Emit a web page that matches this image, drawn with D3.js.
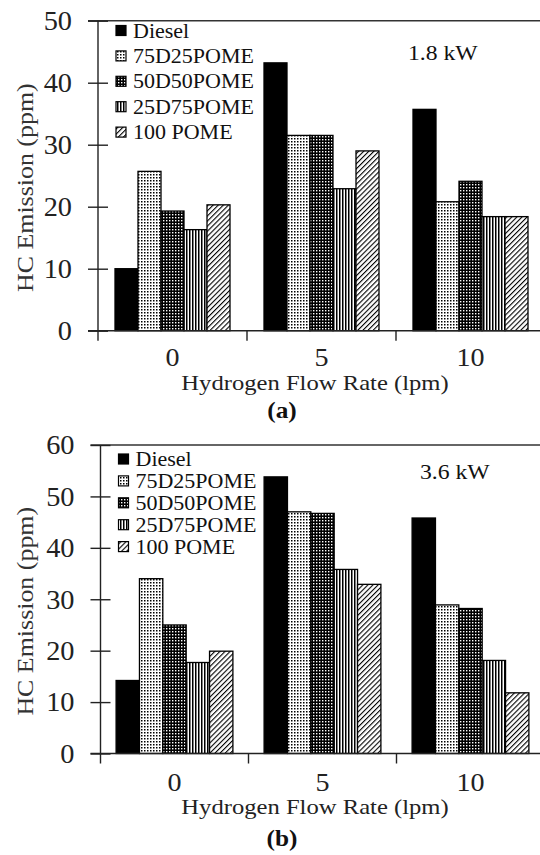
<!DOCTYPE html>
<html>
<head>
<meta charset="utf-8">
<script src="https://cdn.jsdelivr.net/npm/d3@7"></script>
<style>
  html, body { margin: 0; padding: 0; background: #fff; }
  svg { display: block; }
</style>
</head>
<body>
<script>
// ---------------- data ----------------
const categories = ["0", "5", "10"];
const seriesNames = ["Diesel", "75D25POME", "50D50POME", "25D75POME", "100 POME"];

// Panel (a) 1.8 kW
const dieselA  = [10.0, 43.2, 35.7];
const d75A     = [25.7, 31.5, 20.8];
const d50A     = [19.3, 31.5, 24.1];
const d25A     = [16.3, 22.9, 18.4];
const pomeA    = [20.3, 29.0, 18.4];
const yTicksA  = [0, 10, 20, 30, 40, 50];

// Panel (b) 3.6 kW
const dieselB  = [14.2, 53.8, 45.8];
const d75B     = [34.0, 47.0, 28.9];
const d50B     = [25.0, 46.7, 28.2];
const d25B     = [17.7, 35.8, 18.1];
const pomeB    = [19.9, 32.9, 11.8];
const yTicksB  = [0, 10, 20, 30, 40, 50, 60];

const yLabel = "HC Emission (ppm)";
const xLabel = "Hydrogen Flow Rate (lpm)";

// ---------------- drawing ----------------
const W = 540, H = 855;
const SX = 1.1;
const FONT = "'Liberation Serif', 'Times New Roman', Times, serif";

const svg = d3.select("body").append("svg")
  .attr("width", W).attr("height", H)
  .style("background", "#fff");

const defs = svg.append("defs");
const fills = ["#000", "url(#p75)", "url(#p50)", "url(#p25)", "url(#p100)"];

// 75D25: light dots
let p = defs.append("pattern").attr("id", "p75").attr("patternUnits", "userSpaceOnUse")
  .attr("width", 3).attr("height", 3);
p.append("rect").attr("width", 3).attr("height", 3).attr("fill", "#fff");
p.append("rect").attr("x", 0).attr("y", 0).attr("width", 1.5).attr("height", 1.5).attr("fill", "#000");
// 50D50: dark with white dots
p = defs.append("pattern").attr("id", "p50").attr("patternUnits", "userSpaceOnUse")
  .attr("width", 3).attr("height", 3);
p.append("rect").attr("width", 3).attr("height", 3).attr("fill", "#000");
p.append("rect").attr("x", 1).attr("y", 1).attr("width", 1.4).attr("height", 1.4).attr("fill", "#fff");
// 25D75: vertical stripes
p = defs.append("pattern").attr("id", "p25").attr("patternUnits", "userSpaceOnUse")
  .attr("width", 3).attr("height", 3);
p.append("rect").attr("width", 3).attr("height", 3).attr("fill", "#fff");
p.append("rect").attr("x", 0).attr("y", 0).attr("width", 1.5).attr("height", 3).attr("fill", "#000");
// 100 POME: diagonal hatch
p = defs.append("pattern").attr("id", "p100").attr("patternUnits", "userSpaceOnUse")
  .attr("width", 3.6).attr("height", 3.6).attr("patternTransform", "rotate(45)");
p.append("rect").attr("width", 3.6).attr("height", 3.6).attr("fill", "#fff");
p.append("rect").attr("x", 0).attr("y", 0).attr("width", 1.1).attr("height", 3.6).attr("fill", "#000");

function txt(g, x, y, s, o) {
  o = o || {};
  const t = g.append("text")
    .attr("transform", `translate(${x},${y})` + (o.rot ? ` rotate(${o.rot})` : "") + ` scale(${o.sx || SX},1)`)
    .attr("text-anchor", o.anchor || "start")
    .attr("font-family", FONT)
    .attr("font-size", o.size || 20)
    .attr("font-weight", o.bold ? "bold" : "normal")
    .attr("fill", o.color || "#111")
    .text(s);
  if (o.dy) t.attr("dy", o.dy);
  return t;
}

function panel(cfg) {
  const g = svg.append("g");
  const series = [cfg.diesel, cfg.d75, cfg.d50, cfg.d25, cfg.pome];
  const x0 = d3.scaleBand().domain(categories)
    .range([cfg.left, cfg.left + 3 * cfg.band]).padding(0);
  const x1 = d3.scaleBand().domain(seriesNames)
    .range([cfg.gpad, cfg.band - cfg.gpad]).padding(0);
  const y = d3.scaleLinear().domain([0, cfg.ymax]).range([cfg.zero, cfg.top]);

  // bars
  seriesNames.forEach((s, si) => {
    g.append("g").selectAll("rect").data(series[si]).join("rect")
      .attr("x", (d, i) => x0(categories[i]) + x1(s))
      .attr("y", d => y(d))
      .attr("width", x1.bandwidth())
      .attr("height", d => y(0) - y(d))
      .attr("fill", fills[si])
      .attr("stroke", "#000")
      .attr("stroke-width", 1.3);
  });

  // top border
  g.append("line")
    .attr("x1", cfg.left - 10).attr("x2", x0.range()[1])
    .attr("y1", y(cfg.ymax)).attr("y2", y(cfg.ymax))
    .attr("stroke", "#333").attr("stroke-width", 1.6);

  // y axis
  const ya = g.append("g").attr("transform", `translate(${cfg.left},0)`)
    .call(d3.axisLeft(y).tickValues(cfg.yTicks).tickSize(10).tickSizeOuter(0).tickFormat(d3.format("d")));
  ya.select(".domain").remove();
  ya.selectAll(".tick line").attr("x1", 10).attr("stroke", "#222").attr("stroke-width", 1.4);
  ya.selectAll(".tick text").remove();
  cfg.yTicks.forEach(v => {
    txt(g, cfg.left - 26, y(v), String(v), { anchor: "end", size: 26.5, sx: 1.07, dy: "0.35em", color: "#222" });
  });
  g.append("line")
    .attr("x1", cfg.left).attr("x2", cfg.left)
    .attr("y1", y(cfg.ymax)).attr("y2", y(0) + 10)
    .attr("stroke", "#222").attr("stroke-width", 1.4);

  // x axis
  g.append("line")
    .attr("x1", cfg.left - 10).attr("x2", x0.range()[1])
    .attr("y1", y(0)).attr("y2", y(0))
    .attr("stroke", "#222").attr("stroke-width", 1.4);
  categories.slice(1).forEach(c => {
    g.append("line")
      .attr("x1", x0(c)).attr("x2", x0(c))
      .attr("y1", y(0)).attr("y2", y(0) + 10)
      .attr("stroke", "#222").attr("stroke-width", 1.4);
  });
  categories.forEach(c => {
    txt(g, x0(c) + x0.bandwidth() / 2, y(0) + cfg.tickGap, c, { anchor: "middle", size: 26, sx: 1.08, color: "#222" });
  });

  // axis titles
  txt(g, 315, y(0) + cfg.titleGap, xLabel, { anchor: "middle", size: 22, sx: 1.12, color: "#222" });
  txt(g, 33, (cfg.top + cfg.zero) / 2 + 12, yLabel, { anchor: "middle", size: 24, sx: 1.08, rot: -90, color: "#333" });

  // power label
  txt(g, cfg.kwX, cfg.kwY, cfg.kw, { size: 21.5, sx: 1.1 });

  // legend
  seriesNames.forEach((s, si) => {
    const by = cfg.legY + si * cfg.legStep;
    g.append("rect")
      .attr("x", cfg.legX).attr("y", by - 12)
      .attr("width", 10).attr("height", 10)
      .attr("fill", fills[si]).attr("stroke", "#000").attr("stroke-width", 1.2);
    txt(g, cfg.legX + 17, by, s, { size: 20, sx: 1.1 });
  });

  // panel letter
  txt(g, 282, cfg.letterY, cfg.letter, { anchor: "middle", size: 23, bold: true, sx: 1.1 });
}

panel({
  diesel: dieselA, d75: d75A, d50: d50A, d25: d25A, pome: pomeA,
  yTicks: yTicksA, ymax: 50,
  left: 98, band: 149, gpad: 17, top: 20.7, zero: 330.7,
  tickGap: 35.5, titleGap: 59,
  kw: "1.8  kW", kwX: 408, kwY: 59.5,
  legX: 116, legY: 37.5, legStep: 25.4,
  letter: "(a)", letterY: 418
});

panel({
  diesel: dieselB, d75: d75B, d50: d50B, d25: d25B, pome: pomeB,
  yTicks: yTicksB, ymax: 60,
  left: 100.5, band: 148, gpad: 15.6, top: 445, zero: 753.5,
  tickGap: 37.5, titleGap: 60.5,
  kw: "3.6  kW", kwX: 420, kwY: 479,
  legX: 118.5, legY: 466, legStep: 21.9,
  letter: "(b)", letterY: 846
});
</script>
</body>
</html>
